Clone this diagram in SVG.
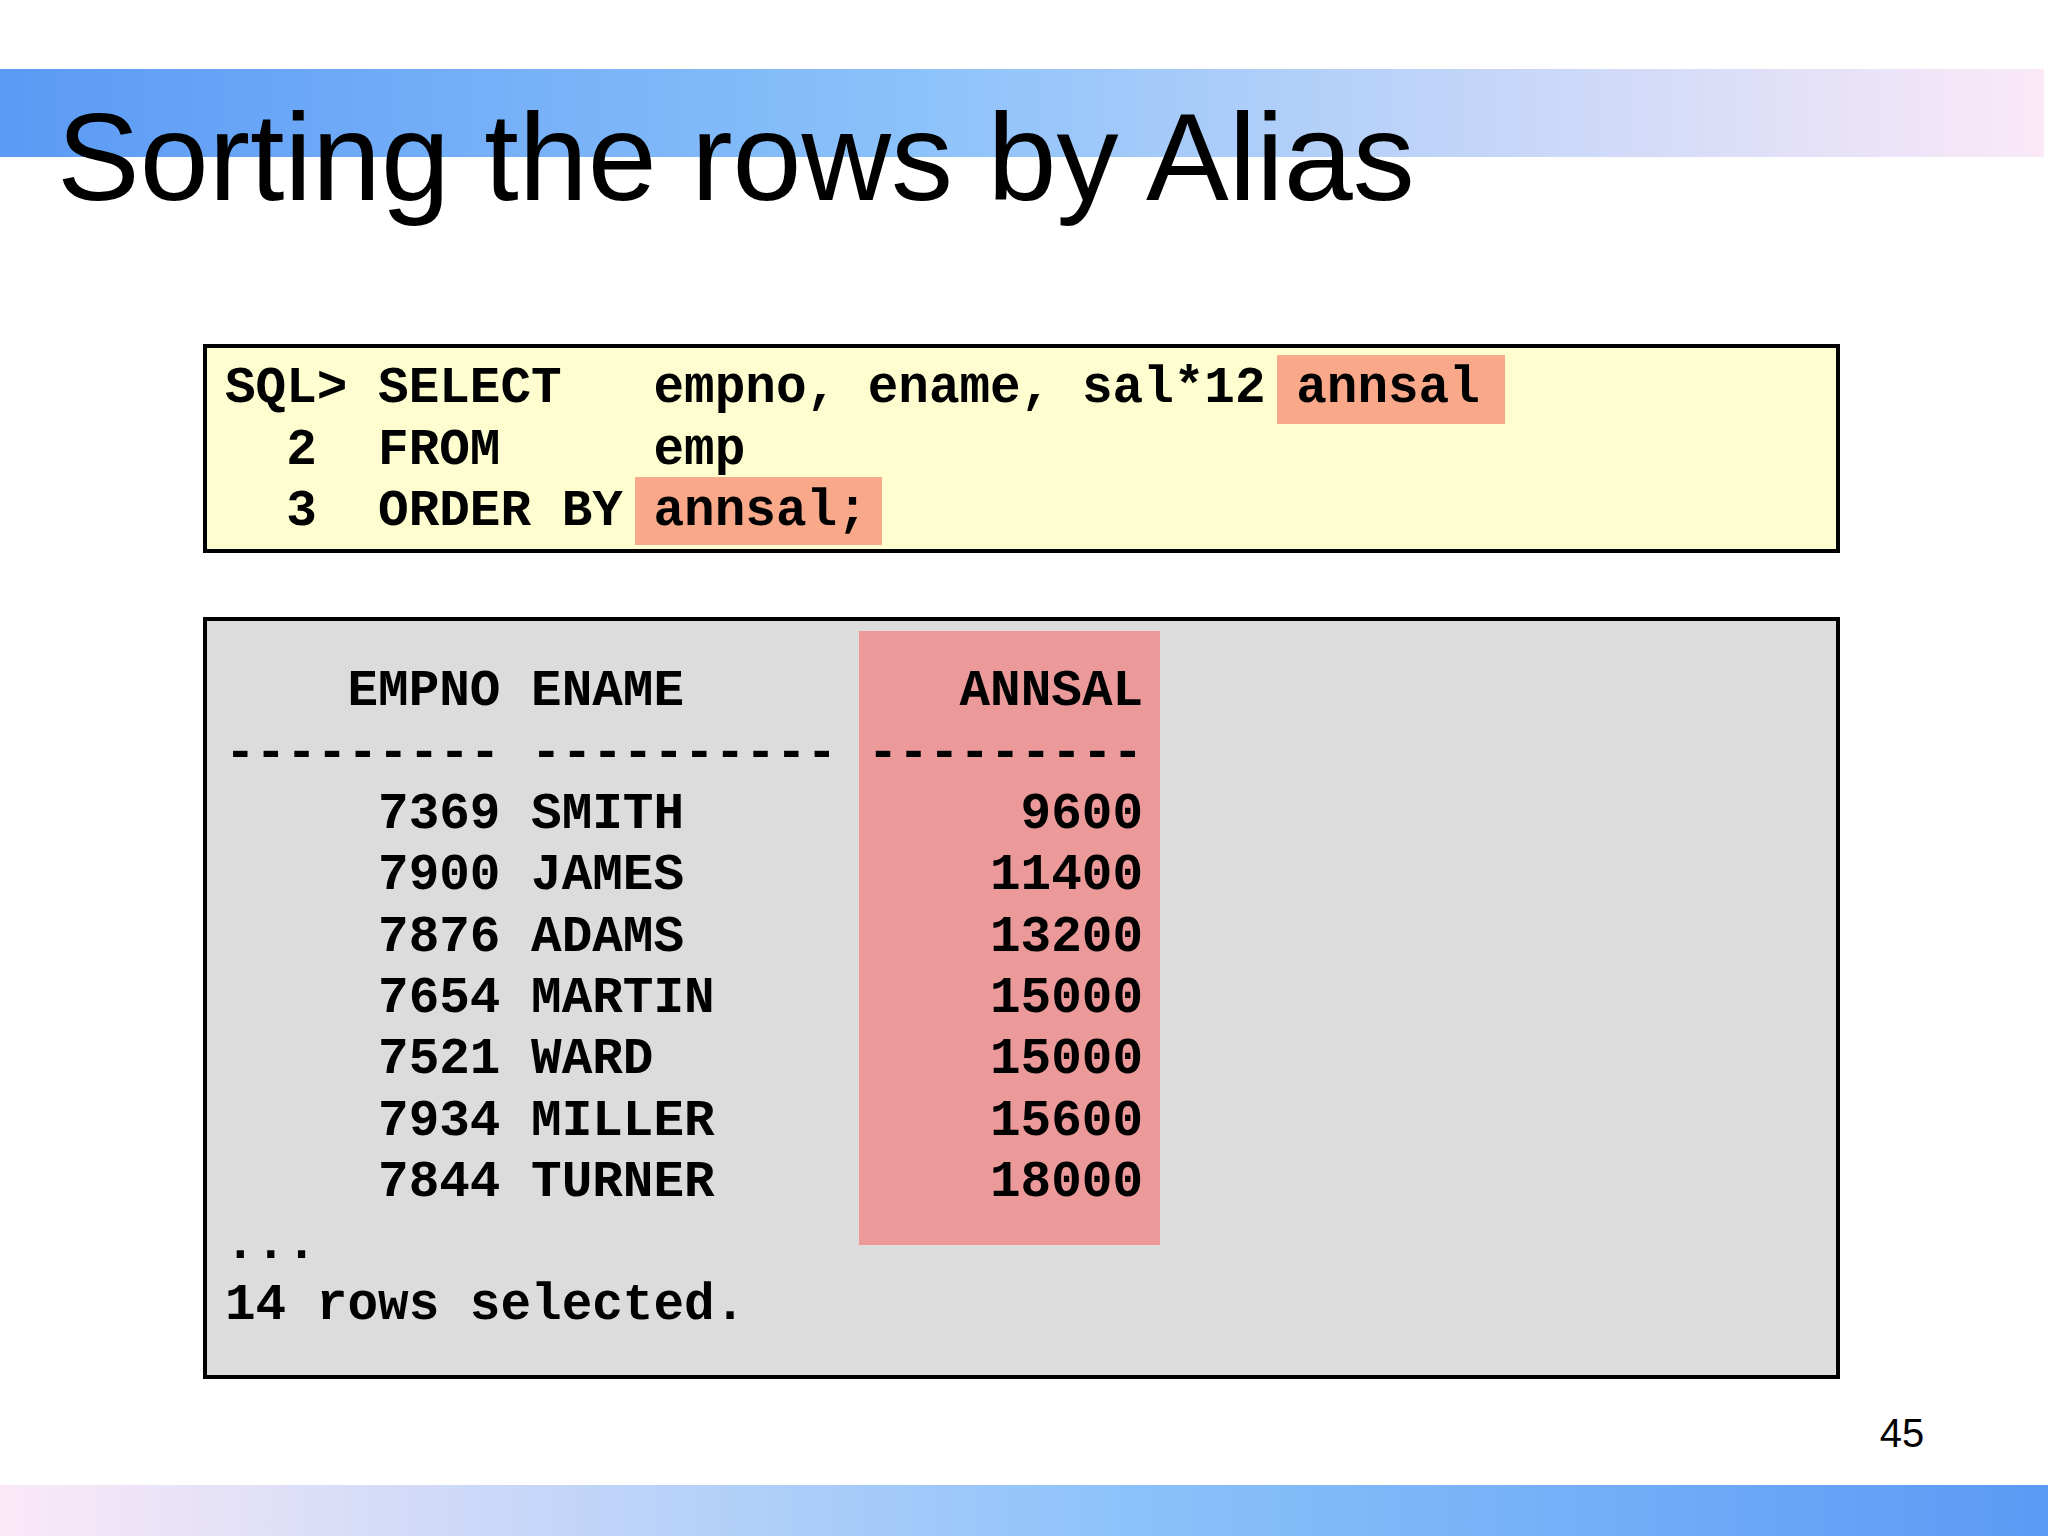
<svg xmlns="http://www.w3.org/2000/svg" width="2048" height="1536" viewBox="0 0 2048 1536">
<defs>
<linearGradient id="top" x1="0" y1="0" x2="1" y2="0"><stop offset="0" stop-color="#5b9af5"/><stop offset="0.45" stop-color="#8cc2fa"/><stop offset="1" stop-color="#fbe9f7"/></linearGradient>
<linearGradient id="bot" x1="0" y1="0" x2="1" y2="0"><stop offset="0" stop-color="#fbe9f7"/><stop offset="0.55" stop-color="#8cc2fa"/><stop offset="1" stop-color="#5b9af5"/></linearGradient>
<style>
.m{font-family:"Liberation Mono","DejaVu Sans Mono",monospace;font-weight:bold;font-size:51px;fill:#000;white-space:pre}
.e{text-anchor:end}
</style>
</defs>
<rect width="2048" height="1536" fill="#fff"/>
<rect x="0" y="69" width="2044" height="88" fill="url(#top)"/>
<rect x="0" y="1485" width="2048" height="51" fill="url(#bot)"/>
<text x="57" y="200" font-family="Liberation Sans, Arial, sans-serif" font-size="124" fill="#000">Sorting the rows by Alias</text>
<g id="sql">
<rect x="205" y="346" width="1633" height="205" fill="#fdfdd0" stroke="#000" stroke-width="4"/>
<rect x="1277" y="355" width="228" height="69" fill="#f9a98a"/>
<rect x="635" y="477" width="247" height="68" fill="#f9a98a"/>
<text class="m" x="225" y="402" xml:space="preserve">SQL&gt; SELECT   empno, ename, sal*12 annsal</text>
<text class="m" x="225" y="464" xml:space="preserve">  2  FROM     emp</text>
<text class="m" x="225" y="525" xml:space="preserve">  3  ORDER BY annsal;</text>
</g>
<g id="result">
<rect x="205" y="619" width="1633" height="758" fill="#dcdcdc" stroke="#000" stroke-width="4"/>
<rect x="859" y="631" width="301" height="614" fill="#eb9999"/>
<text class="m" x="225" y="705" xml:space="preserve">    EMPNO ENAME         ANNSAL</text>
<text class="m" x="225" y="767" xml:space="preserve">--------- ---------- ---------</text>
<g class="m">
<text x="225" y="828" xml:space="preserve">     7369 SMITH</text><text class="m e" x="1143" y="828">9600</text>
<text x="225" y="889" xml:space="preserve">     7900 JAMES</text><text class="m e" x="1143" y="889">11400</text>
<text x="225" y="951" xml:space="preserve">     7876 ADAMS</text><text class="m e" x="1143" y="951">13200</text>
<text x="225" y="1012" xml:space="preserve">     7654 MARTIN</text><text class="m e" x="1143" y="1012">15000</text>
<text x="225" y="1073" xml:space="preserve">     7521 WARD</text><text class="m e" x="1143" y="1073">15000</text>
<text x="225" y="1135" xml:space="preserve">     7934 MILLER</text><text class="m e" x="1143" y="1135">15600</text>
<text x="225" y="1196" xml:space="preserve">     7844 TURNER</text><text class="m e" x="1143" y="1196">18000</text>
<text x="225" y="1258">...</text>
<text x="225" y="1319" xml:space="preserve">14 rows selected.</text>
</g>
</g>
<text x="1902" y="1447" text-anchor="middle" font-family="Liberation Sans, Arial, sans-serif" font-size="40" fill="#000">45</text>
</svg>
